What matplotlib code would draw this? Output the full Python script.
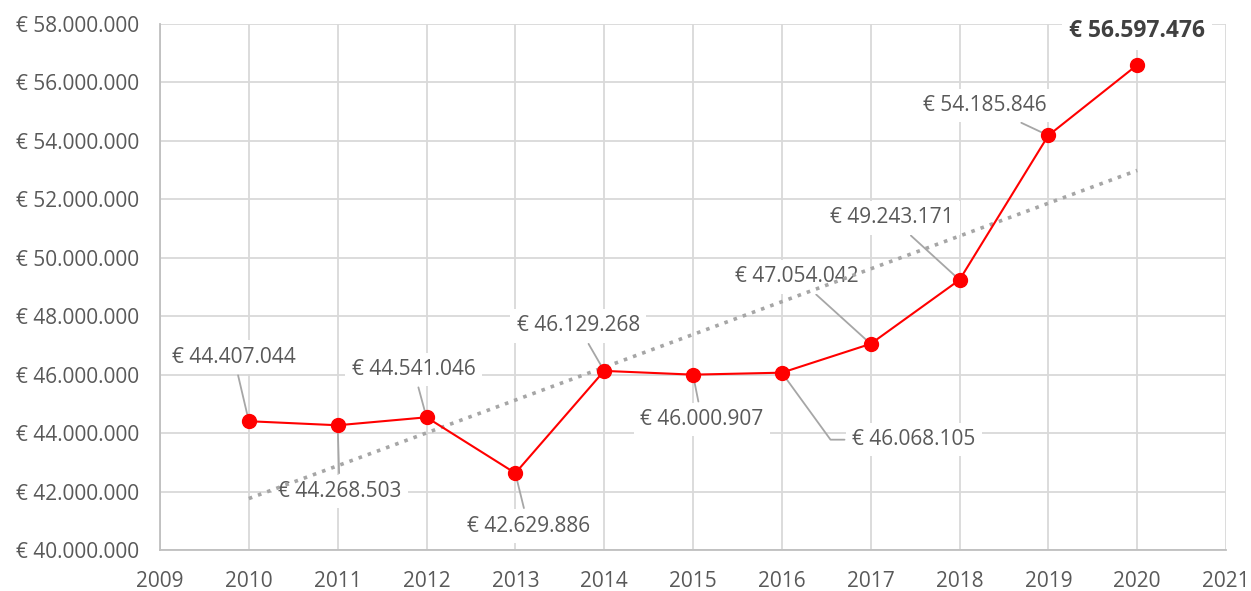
import matplotlib.pyplot as plt
import numpy as np
from matplotlib.ticker import FuncFormatter, MultipleLocator

# Datos
years = [2010, 2011, 2012, 2013, 2014, 2015, 2016, 2017, 2018, 2019, 2020]
values = [44407044, 44268503, 44541046, 42629886, 46129268, 46000907,
          46068105, 47054042, 49243171, 54185846, 56597476]

# Posicion de las etiquetas (desplazamiento en pixeles respecto al punto)
label_offsets = [(-15, 64), (2, -66), (-13, 48), (13, -53), (-26, 45), (9, -45),
                 (132, -67), (-74, 67), (-68, 62), (-64, 30), (0, 34)]


def euro(v):
    return "€ " + f"{v:,.0f}".replace(",", ".")


plt.rcParams['font.family'] = ['Open Sans', 'DejaVu Sans']

fig = plt.figure(figsize=(12.51, 5.91), dpi=100)
ax = fig.add_axes([160 / 1251, 41 / 591, 1066 / 1251, 526 / 591])

ax.set_xlim(2009, 2021)
ax.set_ylim(40000000, 58000000)
ax.xaxis.set_major_locator(MultipleLocator(1))
ax.yaxis.set_major_locator(MultipleLocator(2000000))
ax.yaxis.set_major_formatter(FuncFormatter(lambda v, p: euro(v)))
ax.xaxis.set_major_formatter(FuncFormatter(lambda v, p: f"{int(v)}"))
ax.grid(True, color='#D9D9D9', linewidth=1.3, zorder=0)
ax.set_axisbelow(True)
for s in ['top', 'right']:
    ax.spines[s].set_visible(False)
for s in ['left', 'bottom']:
    ax.spines[s].set_color('#BFBFBF')
    ax.spines[s].set_linewidth(1.3)
ax.tick_params(length=0, labelsize=15, labelcolor='#595959')
ax.tick_params(axis='y', pad=15)
ax.tick_params(axis='x', pad=15)

# Linea de tendencia
coef = np.polyfit(years, values, 1)
trend = np.polyval(coef, years)
ax.plot(years, trend, color='#A6A6A6', linestyle=(0, (1, 1.7)), linewidth=2.6,
        dash_capstyle='butt', zorder=4)

ax.plot(years, values, color='red', linewidth=1.5, marker='o', markersize=10, zorder=5)

for i, (x, y) in enumerate(zip(years, values)):
    dx, dy = label_offsets[i]
    last = i == len(years) - 1
    conn = 'arc3'
    if i == 6:
        conn = 'angle,angleA=0,angleB=-54,rad=0'
    ax.annotate(euro(y), xy=(x, y), xytext=(dx * 0.72, dy * 0.72),
                textcoords='offset points', ha='center', va='center',
                fontsize=16.5 if last else 15,
                fontweight='bold' if last else 'normal',
                color='#404040' if last else '#595959',
                bbox=dict(boxstyle='square,pad=0.3', fc='white', ec='none'),
                arrowprops=None if last else dict(arrowstyle='-', color='#A6A6A6', lw=1.3,
                                                  shrinkA=1, shrinkB=0,
                                                  connectionstyle=conn),
                zorder=3)

fig.savefig('out.png', dpi=100)
